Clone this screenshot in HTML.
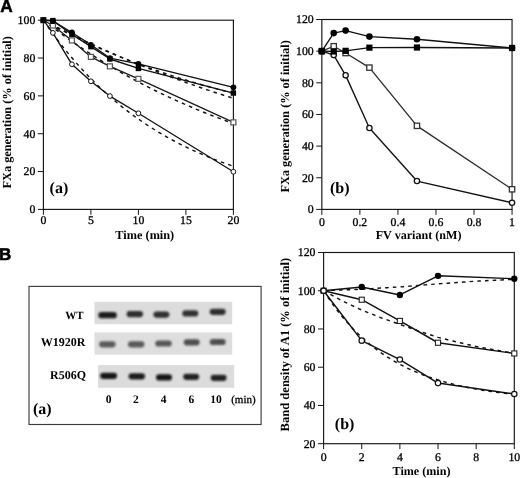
<!DOCTYPE html><html><head><meta charset="utf-8"><style>html,body{margin:0;padding:0;background:#fff;}svg{display:block;filter:blur(0.35px);}</style></head><body>
<svg width="520" height="478" viewBox="0 0 520 478" text-rendering="geometricPrecision">
<rect width="520" height="478" fill="#fff"/>
<text x="0.2" y="12.1" font-size="17.3" text-anchor="start" font-weight="bold" font-family='"Liberation Sans", sans-serif'  stroke="#000" stroke-width="0.5">A</text>
<text x="-1" y="260.1" font-size="17" text-anchor="start" font-weight="bold" font-family='"Liberation Sans", sans-serif'  stroke="#000" stroke-width="0.6">B</text>
<rect x="43.4" y="20.2" width="190" height="189.2" fill="none" stroke="#151515" stroke-width="1.15"/>
<line x1="37.8" y1="209.4" x2="43.4" y2="209.4" stroke="#151515" stroke-width="1"/>
<text x="35.3" y="213.3" font-size="11.8" text-anchor="end" font-weight="normal" font-family='"Liberation Serif", serif'  stroke="#000" stroke-width="0.3">0</text>
<line x1="37.8" y1="171.56" x2="43.4" y2="171.56" stroke="#151515" stroke-width="1"/>
<text x="35.3" y="175.46" font-size="11.8" text-anchor="end" font-weight="normal" font-family='"Liberation Serif", serif'  stroke="#000" stroke-width="0.3">20</text>
<line x1="37.8" y1="133.72" x2="43.4" y2="133.72" stroke="#151515" stroke-width="1"/>
<text x="35.3" y="137.62" font-size="11.8" text-anchor="end" font-weight="normal" font-family='"Liberation Serif", serif'  stroke="#000" stroke-width="0.3">40</text>
<line x1="37.8" y1="95.88" x2="43.4" y2="95.88" stroke="#151515" stroke-width="1"/>
<text x="35.3" y="99.78" font-size="11.8" text-anchor="end" font-weight="normal" font-family='"Liberation Serif", serif'  stroke="#000" stroke-width="0.3">60</text>
<line x1="37.8" y1="58.04" x2="43.4" y2="58.04" stroke="#151515" stroke-width="1"/>
<text x="35.3" y="61.94" font-size="11.8" text-anchor="end" font-weight="normal" font-family='"Liberation Serif", serif'  stroke="#000" stroke-width="0.3">80</text>
<line x1="37.8" y1="20.2" x2="43.4" y2="20.2" stroke="#151515" stroke-width="1"/>
<text x="35.3" y="24.1" font-size="11.8" text-anchor="end" font-weight="normal" font-family='"Liberation Serif", serif'  stroke="#000" stroke-width="0.3">100</text>
<line x1="43.4" y1="209.4" x2="43.4" y2="214.8" stroke="#151515" stroke-width="1"/>
<text x="43.4" y="224.4" font-size="11.8" text-anchor="middle" font-weight="normal" font-family='"Liberation Serif", serif'  stroke="#000" stroke-width="0.3">0</text>
<line x1="90.9" y1="209.4" x2="90.9" y2="214.8" stroke="#151515" stroke-width="1"/>
<text x="90.9" y="224.4" font-size="11.8" text-anchor="middle" font-weight="normal" font-family='"Liberation Serif", serif'  stroke="#000" stroke-width="0.3">5</text>
<line x1="138.4" y1="209.4" x2="138.4" y2="214.8" stroke="#151515" stroke-width="1"/>
<text x="138.4" y="224.4" font-size="11.8" text-anchor="middle" font-weight="normal" font-family='"Liberation Serif", serif'  stroke="#000" stroke-width="0.3">10</text>
<line x1="185.9" y1="209.4" x2="185.9" y2="214.8" stroke="#151515" stroke-width="1"/>
<text x="185.9" y="224.4" font-size="11.8" text-anchor="middle" font-weight="normal" font-family='"Liberation Serif", serif'  stroke="#000" stroke-width="0.3">15</text>
<line x1="233.4" y1="209.4" x2="233.4" y2="214.8" stroke="#151515" stroke-width="1"/>
<text x="233.4" y="224.4" font-size="11.8" text-anchor="middle" font-weight="normal" font-family='"Liberation Serif", serif'  stroke="#000" stroke-width="0.3">20</text>
<text x="144.8" y="239.2" font-size="12.3" text-anchor="middle" font-weight="bold" font-family='"Liberation Serif", serif' >Time (min)</text>
<text transform="translate(11.3,112.3) rotate(-90)" font-size="12.3" text-anchor="middle" font-weight="bold" font-family='"Liberation Serif", serif'>FXa generation (% of initial)</text>
<text x="49.6" y="193.2" font-size="16" text-anchor="start" font-weight="bold" font-family='"Liberation Serif", serif' >(a)</text>
<polyline points="43.4,20.2 46.57,21.87 49.73,23.53 52.9,25.17 56.07,26.79 59.23,28.4 62.4,30 65.57,31.59 68.73,33.16 71.9,34.71 75.07,36.25 78.23,37.78 81.4,39.3 84.57,40.8 87.73,42.29 90.9,43.76 94.07,45.22 97.23,46.67 100.4,48.11 103.57,49.53 106.73,50.94 109.9,52.34 113.07,53.73 116.23,55.1 119.4,56.47 122.57,57.82 125.73,59.15 128.9,60.48 132.07,61.8 135.23,63.1 138.4,64.39 141.57,65.67 144.73,66.94 147.9,68.2 151.07,69.44 154.23,70.68 157.4,71.9 160.57,73.12 163.73,74.32 166.9,75.51 170.07,76.69 173.23,77.87 176.4,79.03 179.57,80.18 182.73,81.32 185.9,82.45 189.07,83.57 192.23,84.68 195.4,85.78 198.57,86.87 201.73,87.95 204.9,89.03 208.07,90.09 211.23,91.14 214.4,92.19 217.57,93.22 220.73,94.25 223.9,95.26 227.07,96.27 230.23,97.27 233.4,98.26" fill="none" stroke="#111" stroke-width="1.45" stroke-dasharray="3.6 4.1" stroke-linejoin="round"/>
<polyline points="43.4,20.2 46.57,22.67 49.73,25.12 52.9,27.53 56.07,29.91 59.23,32.25 62.4,34.57 65.57,36.86 68.73,39.12 71.9,41.34 75.07,43.54 78.23,45.71 81.4,47.85 84.57,49.96 87.73,52.05 90.9,54.11 94.07,56.14 97.23,58.14 100.4,60.12 103.57,62.08 106.73,64 109.9,65.9 113.07,67.78 116.23,69.63 119.4,71.46 122.57,73.27 125.73,75.05 128.9,76.8 132.07,78.54 135.23,80.25 138.4,81.94 141.57,83.61 144.73,85.25 147.9,86.88 151.07,88.48 154.23,90.06 157.4,91.62 160.57,93.16 163.73,94.68 166.9,96.18 170.07,97.66 173.23,99.13 176.4,100.57 179.57,101.99 182.73,103.4 185.9,104.78 189.07,106.15 192.23,107.5 195.4,108.83 198.57,110.15 201.73,111.45 204.9,112.73 208.07,113.99 211.23,115.24 214.4,116.47 217.57,117.69 220.73,118.89 223.9,120.07 227.07,121.24 230.23,122.39 233.4,123.53" fill="none" stroke="#111" stroke-width="1.45" stroke-dasharray="3.6 4.1" stroke-linejoin="round"/>
<polyline points="43.4,20.2 46.57,24.8 49.73,29.3 52.9,33.68 56.07,37.95 59.23,42.13 62.4,46.2 65.57,50.17 68.73,54.04 71.9,57.82 75.07,61.51 78.23,65.11 81.4,68.62 84.57,72.04 87.73,75.39 90.9,78.65 94.07,81.83 97.23,84.93 100.4,87.96 103.57,90.92 106.73,93.8 109.9,96.61 113.07,99.36 116.23,102.03 119.4,104.65 122.57,107.2 125.73,109.68 128.9,112.11 132.07,114.48 135.23,116.79 138.4,119.04 141.57,121.24 144.73,123.38 147.9,125.48 151.07,127.52 154.23,129.51 157.4,131.45 160.57,133.35 163.73,135.2 166.9,137.01 170.07,138.77 173.23,140.49 176.4,142.16 179.57,143.8 182.73,145.4 185.9,146.95 189.07,148.47 192.23,149.96 195.4,151.4 198.57,152.81 201.73,154.19 204.9,155.53 208.07,156.84 211.23,158.12 214.4,159.37 217.57,160.59 220.73,161.78 223.9,162.93 227.07,164.07 230.23,165.17 233.4,166.24" fill="none" stroke="#111" stroke-width="1.45" stroke-dasharray="3.6 4.1" stroke-linejoin="round"/>
<polyline points="43.4,20.2 46.57,21.96 49.73,23.69 52.9,25.41 56.07,27.1 59.23,28.76 62.4,30.41 65.57,32.03 68.73,33.63 71.9,35.21 75.07,36.77 78.23,38.31 81.4,39.83 84.57,41.33 87.73,42.8 90.9,44.26 94.07,45.7 97.23,47.12 100.4,48.52 103.57,49.9 106.73,51.27 109.9,52.61 113.07,53.94 116.23,55.25 119.4,56.55 122.57,57.82 125.73,59.08 128.9,60.32 132.07,61.55 135.23,62.76 138.4,63.95 141.57,65.13 144.73,66.29 147.9,67.44 151.07,68.57 154.23,69.69 157.4,70.79 160.57,71.87 163.73,72.95 166.9,74 170.07,75.05 173.23,76.08 176.4,77.09 179.57,78.1 182.73,79.09 185.9,80.06 189.07,81.03 192.23,81.98 195.4,82.92 198.57,83.84 201.73,84.76 204.9,85.66 208.07,86.55 211.23,87.42 214.4,88.29 217.57,89.14 220.73,89.99 223.9,90.82 227.07,91.64 230.23,92.45 233.4,93.25" fill="none" stroke="#111" stroke-width="1.45" stroke-dasharray="3.6 4.1" stroke-linejoin="round"/>
<polyline points="43.4,20.2 52.9,32.88 71.9,64.28 90.9,81.31 109.9,96.07 138.4,113.29 233.4,171.75" fill="none" stroke="#111" stroke-width="1.35" stroke-linejoin="round"/>
<polyline points="43.4,20.2 52.9,25.5 71.9,40.44 90.9,56.9 109.9,66.36 138.4,78.85 233.4,122.37" fill="none" stroke="#1a1a1a" stroke-width="1.3" stroke-linejoin="round"/>
<polyline points="43.4,20.2 52.9,20.58 71.9,34.39 90.9,46.69 109.9,58.99 138.4,68.45 233.4,93.04" fill="none" stroke="#111" stroke-width="1.35" stroke-linejoin="round"/>
<polyline points="43.4,20.2 52.9,21.15 71.9,32.5 90.9,44.8 109.9,58.04 138.4,63.91 233.4,87.37" fill="none" stroke="#111" stroke-width="1.35" stroke-linejoin="round"/>
<circle cx="43.4" cy="20.2" r="2.4" fill="#fff" stroke="#111" stroke-width="1"/>
<circle cx="52.9" cy="32.88" r="2.4" fill="#fff" stroke="#111" stroke-width="1"/>
<circle cx="71.9" cy="64.28" r="2.4" fill="#fff" stroke="#111" stroke-width="1"/>
<circle cx="90.9" cy="81.31" r="2.4" fill="#fff" stroke="#111" stroke-width="1"/>
<circle cx="109.9" cy="96.07" r="2.4" fill="#fff" stroke="#111" stroke-width="1"/>
<circle cx="138.4" cy="113.29" r="2.4" fill="#fff" stroke="#111" stroke-width="1"/>
<circle cx="233.4" cy="171.75" r="2.4" fill="#fff" stroke="#111" stroke-width="1"/>
<rect x="40.9" y="17.7" width="5" height="5" fill="#fff" stroke="#555" stroke-width="1.2"/>
<rect x="50.4" y="23" width="5" height="5" fill="#fff" stroke="#555" stroke-width="1.2"/>
<rect x="69.4" y="37.94" width="5" height="5" fill="#fff" stroke="#555" stroke-width="1.2"/>
<rect x="88.4" y="54.4" width="5" height="5" fill="#fff" stroke="#555" stroke-width="1.2"/>
<rect x="107.4" y="63.86" width="5" height="5" fill="#fff" stroke="#555" stroke-width="1.2"/>
<rect x="135.9" y="76.35" width="5" height="5" fill="#fff" stroke="#555" stroke-width="1.2"/>
<rect x="230.9" y="119.87" width="5" height="5" fill="#fff" stroke="#555" stroke-width="1.2"/>
<circle cx="43.4" cy="20.2" r="2.9" fill="#000"/>
<circle cx="52.9" cy="21.15" r="2.9" fill="#000"/>
<circle cx="71.9" cy="32.5" r="2.9" fill="#000"/>
<circle cx="90.9" cy="44.8" r="2.9" fill="#000"/>
<circle cx="109.9" cy="58.04" r="2.9" fill="#000"/>
<circle cx="138.4" cy="63.91" r="2.9" fill="#000"/>
<circle cx="233.4" cy="87.37" r="2.9" fill="#000"/>
<rect x="40.7" y="17.5" width="5.4" height="5.4" fill="#000"/>
<rect x="50.2" y="17.88" width="5.4" height="5.4" fill="#000"/>
<rect x="69.2" y="31.69" width="5.4" height="5.4" fill="#000"/>
<rect x="88.2" y="43.99" width="5.4" height="5.4" fill="#000"/>
<rect x="107.2" y="56.29" width="5.4" height="5.4" fill="#000"/>
<rect x="135.7" y="65.75" width="5.4" height="5.4" fill="#000"/>
<rect x="230.7" y="90.34" width="5.4" height="5.4" fill="#000"/>
<rect x="321.85" y="19.5" width="190.2" height="189.9" fill="none" stroke="#151515" stroke-width="1.15"/>
<line x1="316.25" y1="209.4" x2="321.85" y2="209.4" stroke="#151515" stroke-width="1"/>
<text x="313.75" y="213.3" font-size="11.8" text-anchor="end" font-weight="normal" font-family='"Liberation Serif", serif'  stroke="#000" stroke-width="0.3">0</text>
<line x1="316.25" y1="177.75" x2="321.85" y2="177.75" stroke="#151515" stroke-width="1"/>
<text x="313.75" y="181.65" font-size="11.8" text-anchor="end" font-weight="normal" font-family='"Liberation Serif", serif'  stroke="#000" stroke-width="0.3">20</text>
<line x1="316.25" y1="146.1" x2="321.85" y2="146.1" stroke="#151515" stroke-width="1"/>
<text x="313.75" y="150" font-size="11.8" text-anchor="end" font-weight="normal" font-family='"Liberation Serif", serif'  stroke="#000" stroke-width="0.3">40</text>
<line x1="316.25" y1="114.45" x2="321.85" y2="114.45" stroke="#151515" stroke-width="1"/>
<text x="313.75" y="118.35" font-size="11.8" text-anchor="end" font-weight="normal" font-family='"Liberation Serif", serif'  stroke="#000" stroke-width="0.3">60</text>
<line x1="316.25" y1="82.8" x2="321.85" y2="82.8" stroke="#151515" stroke-width="1"/>
<text x="313.75" y="86.7" font-size="11.8" text-anchor="end" font-weight="normal" font-family='"Liberation Serif", serif'  stroke="#000" stroke-width="0.3">80</text>
<line x1="316.25" y1="51.15" x2="321.85" y2="51.15" stroke="#151515" stroke-width="1"/>
<text x="313.75" y="55.05" font-size="11.8" text-anchor="end" font-weight="normal" font-family='"Liberation Serif", serif'  stroke="#000" stroke-width="0.3">100</text>
<line x1="316.25" y1="19.5" x2="321.85" y2="19.5" stroke="#151515" stroke-width="1"/>
<text x="313.75" y="23.4" font-size="11.8" text-anchor="end" font-weight="normal" font-family='"Liberation Serif", serif'  stroke="#000" stroke-width="0.3">120</text>
<line x1="321.85" y1="209.4" x2="321.85" y2="214.8" stroke="#151515" stroke-width="1"/>
<text x="321.85" y="225.6" font-size="11.8" text-anchor="middle" font-weight="normal" font-family='"Liberation Serif", serif'  stroke="#000" stroke-width="0.3">0</text>
<line x1="359.89" y1="209.4" x2="359.89" y2="214.8" stroke="#151515" stroke-width="1"/>
<text x="359.89" y="225.6" font-size="11.8" text-anchor="middle" font-weight="normal" font-family='"Liberation Serif", serif'  stroke="#000" stroke-width="0.3">0.2</text>
<line x1="397.93" y1="209.4" x2="397.93" y2="214.8" stroke="#151515" stroke-width="1"/>
<text x="397.93" y="225.6" font-size="11.8" text-anchor="middle" font-weight="normal" font-family='"Liberation Serif", serif'  stroke="#000" stroke-width="0.3">0.4</text>
<line x1="435.97" y1="209.4" x2="435.97" y2="214.8" stroke="#151515" stroke-width="1"/>
<text x="435.97" y="225.6" font-size="11.8" text-anchor="middle" font-weight="normal" font-family='"Liberation Serif", serif'  stroke="#000" stroke-width="0.3">0.6</text>
<line x1="474.01" y1="209.4" x2="474.01" y2="214.8" stroke="#151515" stroke-width="1"/>
<text x="474.01" y="225.6" font-size="11.8" text-anchor="middle" font-weight="normal" font-family='"Liberation Serif", serif'  stroke="#000" stroke-width="0.3">0.8</text>
<line x1="512.05" y1="209.4" x2="512.05" y2="214.8" stroke="#151515" stroke-width="1"/>
<text x="512.05" y="225.6" font-size="11.8" text-anchor="middle" font-weight="normal" font-family='"Liberation Serif", serif'  stroke="#000" stroke-width="0.3">1</text>
<text x="418.6" y="239.3" font-size="12.1" text-anchor="middle" font-weight="bold" font-family='"Liberation Serif", serif' >FV variant (nM)</text>
<text transform="translate(289.4,116.4) rotate(-90)" font-size="12.3" text-anchor="middle" font-weight="bold" font-family='"Liberation Serif", serif'>FXa generation (% of initial)</text>
<text x="330" y="193.4" font-size="16" text-anchor="start" font-weight="bold" font-family='"Liberation Serif", serif' >(b)</text>
<polyline points="321.85,51.15 333.74,46.24 345.62,53.05 369.4,67.61 416.95,125.84 512.05,189.3" fill="none" stroke="#2a2a2a" stroke-width="1.3" stroke-linejoin="round"/>
<polyline points="321.85,51.15 333.74,55.11 345.62,75.36 369.4,128.06 416.95,181.07 512.05,202.75" fill="none" stroke="#111" stroke-width="1.35" stroke-linejoin="round"/>
<polyline points="321.85,51.15 333.74,51.47 345.62,50.83 369.4,47.67 416.95,47.51 512.05,47.99" fill="none" stroke="#111" stroke-width="1.35" stroke-linejoin="round"/>
<polyline points="321.85,51.15 333.74,33.11 345.62,30.58 369.4,36.59 416.95,39.28 512.05,47.99" fill="none" stroke="#111" stroke-width="1.35" stroke-linejoin="round"/>
<circle cx="321.85" cy="51.15" r="2.65" fill="#fff" stroke="#111" stroke-width="1.3"/>
<circle cx="333.74" cy="55.11" r="2.65" fill="#fff" stroke="#111" stroke-width="1.3"/>
<circle cx="345.62" cy="75.36" r="2.65" fill="#fff" stroke="#111" stroke-width="1.3"/>
<circle cx="369.4" cy="128.06" r="2.65" fill="#fff" stroke="#111" stroke-width="1.3"/>
<circle cx="416.95" cy="181.07" r="2.65" fill="#fff" stroke="#111" stroke-width="1.3"/>
<circle cx="512.05" cy="202.75" r="2.65" fill="#fff" stroke="#111" stroke-width="1.3"/>
<rect x="319.2" y="48.5" width="5.3" height="5.3" fill="#fff" stroke="#333" stroke-width="1.3"/>
<rect x="331.09" y="43.59" width="5.3" height="5.3" fill="#fff" stroke="#333" stroke-width="1.3"/>
<rect x="342.98" y="50.4" width="5.3" height="5.3" fill="#fff" stroke="#333" stroke-width="1.3"/>
<rect x="366.75" y="64.96" width="5.3" height="5.3" fill="#fff" stroke="#333" stroke-width="1.3"/>
<rect x="414.3" y="123.19" width="5.3" height="5.3" fill="#fff" stroke="#333" stroke-width="1.3"/>
<rect x="509.4" y="186.65" width="5.3" height="5.3" fill="#fff" stroke="#333" stroke-width="1.3"/>
<circle cx="321.85" cy="51.15" r="3.3" fill="#000"/>
<circle cx="333.74" cy="33.11" r="3.3" fill="#000"/>
<circle cx="345.62" cy="30.58" r="3.3" fill="#000"/>
<circle cx="369.4" cy="36.59" r="3.3" fill="#000"/>
<circle cx="416.95" cy="39.28" r="3.3" fill="#000"/>
<circle cx="512.05" cy="47.99" r="3.3" fill="#000"/>
<rect x="318.75" y="48.05" width="6.2" height="6.2" fill="#000"/>
<rect x="330.64" y="48.37" width="6.2" height="6.2" fill="#000"/>
<rect x="342.52" y="47.73" width="6.2" height="6.2" fill="#000"/>
<rect x="366.3" y="44.57" width="6.2" height="6.2" fill="#000"/>
<rect x="413.85" y="44.41" width="6.2" height="6.2" fill="#000"/>
<rect x="508.95" y="44.89" width="6.2" height="6.2" fill="#000"/>
<rect x="29" y="286.4" width="232.1" height="138.1" fill="none" stroke="#3c3c3c" stroke-width="1.15"/>
<text x="83.6" y="318.9" font-size="11" text-anchor="end" font-weight="bold" font-family='"Liberation Serif", serif' >WT</text>
<text x="85.5" y="345.6" font-size="12" text-anchor="end" font-weight="bold" font-family='"Liberation Serif", serif' >W1920R</text>
<text x="86" y="378.6" font-size="12" text-anchor="end" font-weight="bold" font-family='"Liberation Serif", serif' >R506Q</text>
<text x="108.7" y="403.2" font-size="11.5" text-anchor="middle" font-weight="bold" font-family='"Liberation Serif", serif' >0</text>
<text x="135.9" y="403.2" font-size="11.5" text-anchor="middle" font-weight="bold" font-family='"Liberation Serif", serif' >2</text>
<text x="163.6" y="403.2" font-size="11.5" text-anchor="middle" font-weight="bold" font-family='"Liberation Serif", serif' >4</text>
<text x="191.4" y="403.2" font-size="11.5" text-anchor="middle" font-weight="bold" font-family='"Liberation Serif", serif' >6</text>
<text x="215.9" y="403.2" font-size="11.5" text-anchor="middle" font-weight="bold" font-family='"Liberation Serif", serif' >10</text>
<text x="231.2" y="402.6" font-size="11" text-anchor="start" font-weight="normal" font-family='"Liberation Serif", serif'  stroke="#000" stroke-width="0.3">(min)</text>
<text x="32.9" y="413.5" font-size="16" text-anchor="start" font-weight="bold" font-family='"Liberation Serif", serif' >(a)</text>
<defs><filter id="bl" x="-50%" y="-50%" width="200%" height="200%"><feGaussianBlur stdDeviation="1.25"/></filter></defs>
<rect x="94.5" y="301.7" width="137.7" height="22.5" fill="#dcdcdc"/>
<rect x="94.5" y="332.4" width="137.7" height="22.2" fill="#dedede"/>
<rect x="98.1" y="365.1" width="136.1" height="22.7" fill="#dcdcdc"/>
<rect x="98.35" y="312.1" width="18.5" height="6.2" rx="3.1" fill="#1e1e1e" filter="url(#bl)"/>
<rect x="126.55" y="311" width="16.5" height="6.2" rx="3.1" fill="#2e2e2e" filter="url(#bl)"/>
<rect x="153.4" y="311.5" width="16" height="6.2" rx="3.1" fill="#2e2e2e" filter="url(#bl)"/>
<rect x="182.3" y="310.3" width="16" height="6.2" rx="3.1" fill="#333" filter="url(#bl)"/>
<rect x="209.7" y="308.7" width="16" height="6.2" rx="3.1" fill="#2e2e2e" filter="url(#bl)"/>
<rect x="99.15" y="341.2" width="16.5" height="6.2" rx="3.1" fill="#5c5c5c" filter="url(#bl)"/>
<rect x="127.95" y="341.2" width="16.5" height="6.2" rx="3.1" fill="#5a5a5a" filter="url(#bl)"/>
<rect x="155.25" y="340.4" width="16.5" height="6.2" rx="3.1" fill="#585858" filter="url(#bl)"/>
<rect x="183.7" y="339.2" width="16" height="6.2" rx="3.1" fill="#505050" filter="url(#bl)"/>
<rect x="209.7" y="338.9" width="16" height="6.2" rx="3.1" fill="#505050" filter="url(#bl)"/>
<rect x="100.1" y="372.7" width="17" height="6.2" rx="3.1" fill="#161616" filter="url(#bl)"/>
<rect x="128.55" y="373.2" width="16.5" height="6.2" rx="3.1" fill="#1e1e1e" filter="url(#bl)"/>
<rect x="156" y="374.3" width="16" height="6.2" rx="3.1" fill="#161616" filter="url(#bl)"/>
<rect x="183.2" y="373.7" width="16" height="6.2" rx="3.1" fill="#222" filter="url(#bl)"/>
<rect x="210.6" y="374.7" width="16" height="6.2" rx="3.1" fill="#202020" filter="url(#bl)"/>
<rect x="323.6" y="252.5" width="190.7" height="191.2" fill="none" stroke="#151515" stroke-width="1.15"/>
<line x1="318" y1="443.7" x2="323.6" y2="443.7" stroke="#151515" stroke-width="1"/>
<text x="315.5" y="447.6" font-size="11.8" text-anchor="end" font-weight="normal" font-family='"Liberation Serif", serif'  stroke="#000" stroke-width="0.3">20</text>
<line x1="318" y1="405.46" x2="323.6" y2="405.46" stroke="#151515" stroke-width="1"/>
<text x="315.5" y="409.36" font-size="11.8" text-anchor="end" font-weight="normal" font-family='"Liberation Serif", serif'  stroke="#000" stroke-width="0.3">40</text>
<line x1="318" y1="367.22" x2="323.6" y2="367.22" stroke="#151515" stroke-width="1"/>
<text x="315.5" y="371.12" font-size="11.8" text-anchor="end" font-weight="normal" font-family='"Liberation Serif", serif'  stroke="#000" stroke-width="0.3">60</text>
<line x1="318" y1="328.98" x2="323.6" y2="328.98" stroke="#151515" stroke-width="1"/>
<text x="315.5" y="332.88" font-size="11.8" text-anchor="end" font-weight="normal" font-family='"Liberation Serif", serif'  stroke="#000" stroke-width="0.3">80</text>
<line x1="318" y1="290.74" x2="323.6" y2="290.74" stroke="#151515" stroke-width="1"/>
<text x="315.5" y="294.64" font-size="11.8" text-anchor="end" font-weight="normal" font-family='"Liberation Serif", serif'  stroke="#000" stroke-width="0.3">100</text>
<line x1="318" y1="252.5" x2="323.6" y2="252.5" stroke="#151515" stroke-width="1"/>
<text x="315.5" y="256.4" font-size="11.8" text-anchor="end" font-weight="normal" font-family='"Liberation Serif", serif'  stroke="#000" stroke-width="0.3">120</text>
<line x1="323.6" y1="443.7" x2="323.6" y2="449.1" stroke="#151515" stroke-width="1"/>
<text x="323.6" y="461.4" font-size="11.8" text-anchor="middle" font-weight="normal" font-family='"Liberation Serif", serif'  stroke="#000" stroke-width="0.3">0</text>
<line x1="361.74" y1="443.7" x2="361.74" y2="449.1" stroke="#151515" stroke-width="1"/>
<text x="361.74" y="461.4" font-size="11.8" text-anchor="middle" font-weight="normal" font-family='"Liberation Serif", serif'  stroke="#000" stroke-width="0.3">2</text>
<line x1="399.88" y1="443.7" x2="399.88" y2="449.1" stroke="#151515" stroke-width="1"/>
<text x="399.88" y="461.4" font-size="11.8" text-anchor="middle" font-weight="normal" font-family='"Liberation Serif", serif'  stroke="#000" stroke-width="0.3">4</text>
<line x1="438.02" y1="443.7" x2="438.02" y2="449.1" stroke="#151515" stroke-width="1"/>
<text x="438.02" y="461.4" font-size="11.8" text-anchor="middle" font-weight="normal" font-family='"Liberation Serif", serif'  stroke="#000" stroke-width="0.3">6</text>
<line x1="476.16" y1="443.7" x2="476.16" y2="449.1" stroke="#151515" stroke-width="1"/>
<text x="476.16" y="461.4" font-size="11.8" text-anchor="middle" font-weight="normal" font-family='"Liberation Serif", serif'  stroke="#000" stroke-width="0.3">8</text>
<line x1="514.3" y1="443.7" x2="514.3" y2="449.1" stroke="#151515" stroke-width="1"/>
<text x="514.3" y="461.4" font-size="11.8" text-anchor="middle" font-weight="normal" font-family='"Liberation Serif", serif'  stroke="#000" stroke-width="0.3">10</text>
<text x="421.5" y="475" font-size="12.1" text-anchor="middle" font-weight="bold" font-family='"Liberation Serif", serif' >Time (min)</text>
<text transform="translate(289.3,344.6) rotate(-90)" font-size="12.55" text-anchor="middle" font-weight="bold" font-family='"Liberation Serif", serif'>Band density of A1 (% of initial)</text>
<text x="334.8" y="429.4" font-size="16" text-anchor="start" font-weight="bold" font-family='"Liberation Serif", serif' >(b)</text>
<polyline points="323.6,290.74 326.78,290.61 329.96,290.49 333.14,290.36 336.31,290.23 339.49,290.1 342.67,289.98 345.85,289.85 349.03,289.72 352.21,289.59 355.38,289.47 358.56,289.34 361.74,289.21 364.92,289.02 368.1,288.83 371.28,288.64 374.45,288.45 377.63,288.25 380.81,288.06 383.99,287.87 387.17,287.68 390.35,287.49 393.52,287.3 396.7,287.11 399.88,286.92 403.06,286.66 406.24,286.41 409.42,286.15 412.59,285.9 415.77,285.64 418.95,285.39 422.13,285.13 425.31,284.88 428.49,284.62 431.66,284.37 434.84,284.11 438.02,283.86 441.2,283.63 444.38,283.41 447.56,283.19 450.73,282.96 453.91,282.74 457.09,282.52 460.27,282.3 463.45,282.07 466.62,281.85 469.8,281.63 472.98,281.4 476.16,281.18 479.34,281.02 482.52,280.86 485.7,280.7 488.87,280.54 492.05,280.38 495.23,280.22 498.41,280.06 501.59,279.91 504.76,279.75 507.94,279.59 511.12,279.43 514.3,279.27" fill="none" stroke="#111" stroke-width="1.45" stroke-dasharray="3.6 4.1" stroke-linejoin="round"/>
<polyline points="323.6,290.74 326.78,292.46 329.96,294.18 333.14,295.9 336.31,297.62 339.49,299.34 342.67,301.06 345.85,302.56 349.03,304.06 352.21,305.56 355.38,307.06 358.56,308.55 361.74,310.05 364.92,311.33 368.1,312.6 371.28,313.88 374.45,315.15 377.63,316.42 380.81,317.7 383.99,318.81 387.17,319.93 390.35,321.05 393.52,322.16 396.7,323.28 399.88,324.39 403.06,325.51 406.24,326.62 409.42,327.74 412.59,328.85 415.77,329.97 418.95,331.08 422.13,332.13 425.31,333.19 428.49,334.24 431.66,335.29 434.84,336.34 438.02,337.39 441.2,338.16 444.38,338.92 447.56,339.69 450.73,340.45 453.91,341.22 457.09,341.98 460.27,342.75 463.45,343.51 466.62,344.28 469.8,345.04 472.98,345.81 476.16,346.57 479.34,347.13 482.52,347.69 485.7,348.24 488.87,348.8 492.05,349.36 495.23,349.92 498.41,350.47 501.59,351.03 504.76,351.59 507.94,352.15 511.12,352.7 514.3,353.26" fill="none" stroke="#111" stroke-width="1.45" stroke-dasharray="3.6 4.1" stroke-linejoin="round"/>
<polyline points="323.6,290.74 326.78,295.66 329.96,300.36 333.14,304.85 336.31,309.14 339.49,313.25 342.67,317.17 345.85,320.91 349.03,324.49 352.21,327.91 355.38,331.18 358.56,334.31 361.74,337.3 364.92,340.15 368.1,342.88 371.28,345.48 374.45,347.97 377.63,350.35 380.81,352.63 383.99,354.8 387.17,356.88 390.35,358.86 393.52,360.76 396.7,362.57 399.88,364.31 403.06,365.96 406.24,367.54 409.42,369.06 412.59,370.5 415.77,371.88 418.95,373.2 422.13,374.46 425.31,375.67 428.49,376.82 431.66,377.92 434.84,378.97 438.02,379.98 441.2,380.94 444.38,381.86 447.56,382.73 450.73,383.57 453.91,384.37 457.09,385.14 460.27,385.87 463.45,386.57 466.62,387.24 469.8,387.88 472.98,388.49 476.16,389.07 479.34,389.63 482.52,390.16 485.7,390.67 488.87,391.16 492.05,391.62 495.23,392.06 498.41,392.49 501.59,392.89 504.76,393.28 507.94,393.65 511.12,394.01 514.3,394.35" fill="none" stroke="#111" stroke-width="1.45" stroke-dasharray="3.6 4.1" stroke-linejoin="round"/>
<polyline points="323.6,290.74 361.74,286.92 399.88,294.95 438.02,275.83 514.3,278.69" fill="none" stroke="#111" stroke-width="1.45" stroke-linejoin="round"/>
<polyline points="323.6,290.74 361.74,299.73 399.88,320.95 438.02,342.75 514.3,353.45" fill="none" stroke="#111" stroke-width="1.45" stroke-linejoin="round"/>
<polyline points="323.6,290.74 361.74,340.64 399.88,359.57 438.02,383.09 514.3,393.99" fill="none" stroke="#111" stroke-width="1.45" stroke-linejoin="round"/>
<circle cx="323.6" cy="290.74" r="3.2" fill="#000"/>
<circle cx="361.74" cy="286.92" r="3.2" fill="#000"/>
<circle cx="399.88" cy="294.95" r="3.2" fill="#000"/>
<circle cx="438.02" cy="275.83" r="3.2" fill="#000"/>
<circle cx="514.3" cy="278.69" r="3.2" fill="#000"/>
<rect x="321.05" y="288.19" width="5.1" height="5.1" fill="#fff" stroke="#222" stroke-width="1.1"/>
<rect x="359.19" y="297.18" width="5.1" height="5.1" fill="#fff" stroke="#222" stroke-width="1.1"/>
<rect x="397.33" y="318.4" width="5.1" height="5.1" fill="#fff" stroke="#222" stroke-width="1.1"/>
<rect x="435.47" y="340.2" width="5.1" height="5.1" fill="#fff" stroke="#222" stroke-width="1.1"/>
<rect x="511.75" y="350.9" width="5.1" height="5.1" fill="#fff" stroke="#222" stroke-width="1.1"/>
<circle cx="323.6" cy="290.74" r="2.7" fill="#fff" stroke="#111" stroke-width="1.2"/>
<circle cx="361.74" cy="340.64" r="2.7" fill="#fff" stroke="#111" stroke-width="1.2"/>
<circle cx="399.88" cy="359.57" r="2.7" fill="#fff" stroke="#111" stroke-width="1.2"/>
<circle cx="438.02" cy="383.09" r="2.7" fill="#fff" stroke="#111" stroke-width="1.2"/>
<circle cx="514.3" cy="393.99" r="2.7" fill="#fff" stroke="#111" stroke-width="1.2"/>
</svg></body></html>
